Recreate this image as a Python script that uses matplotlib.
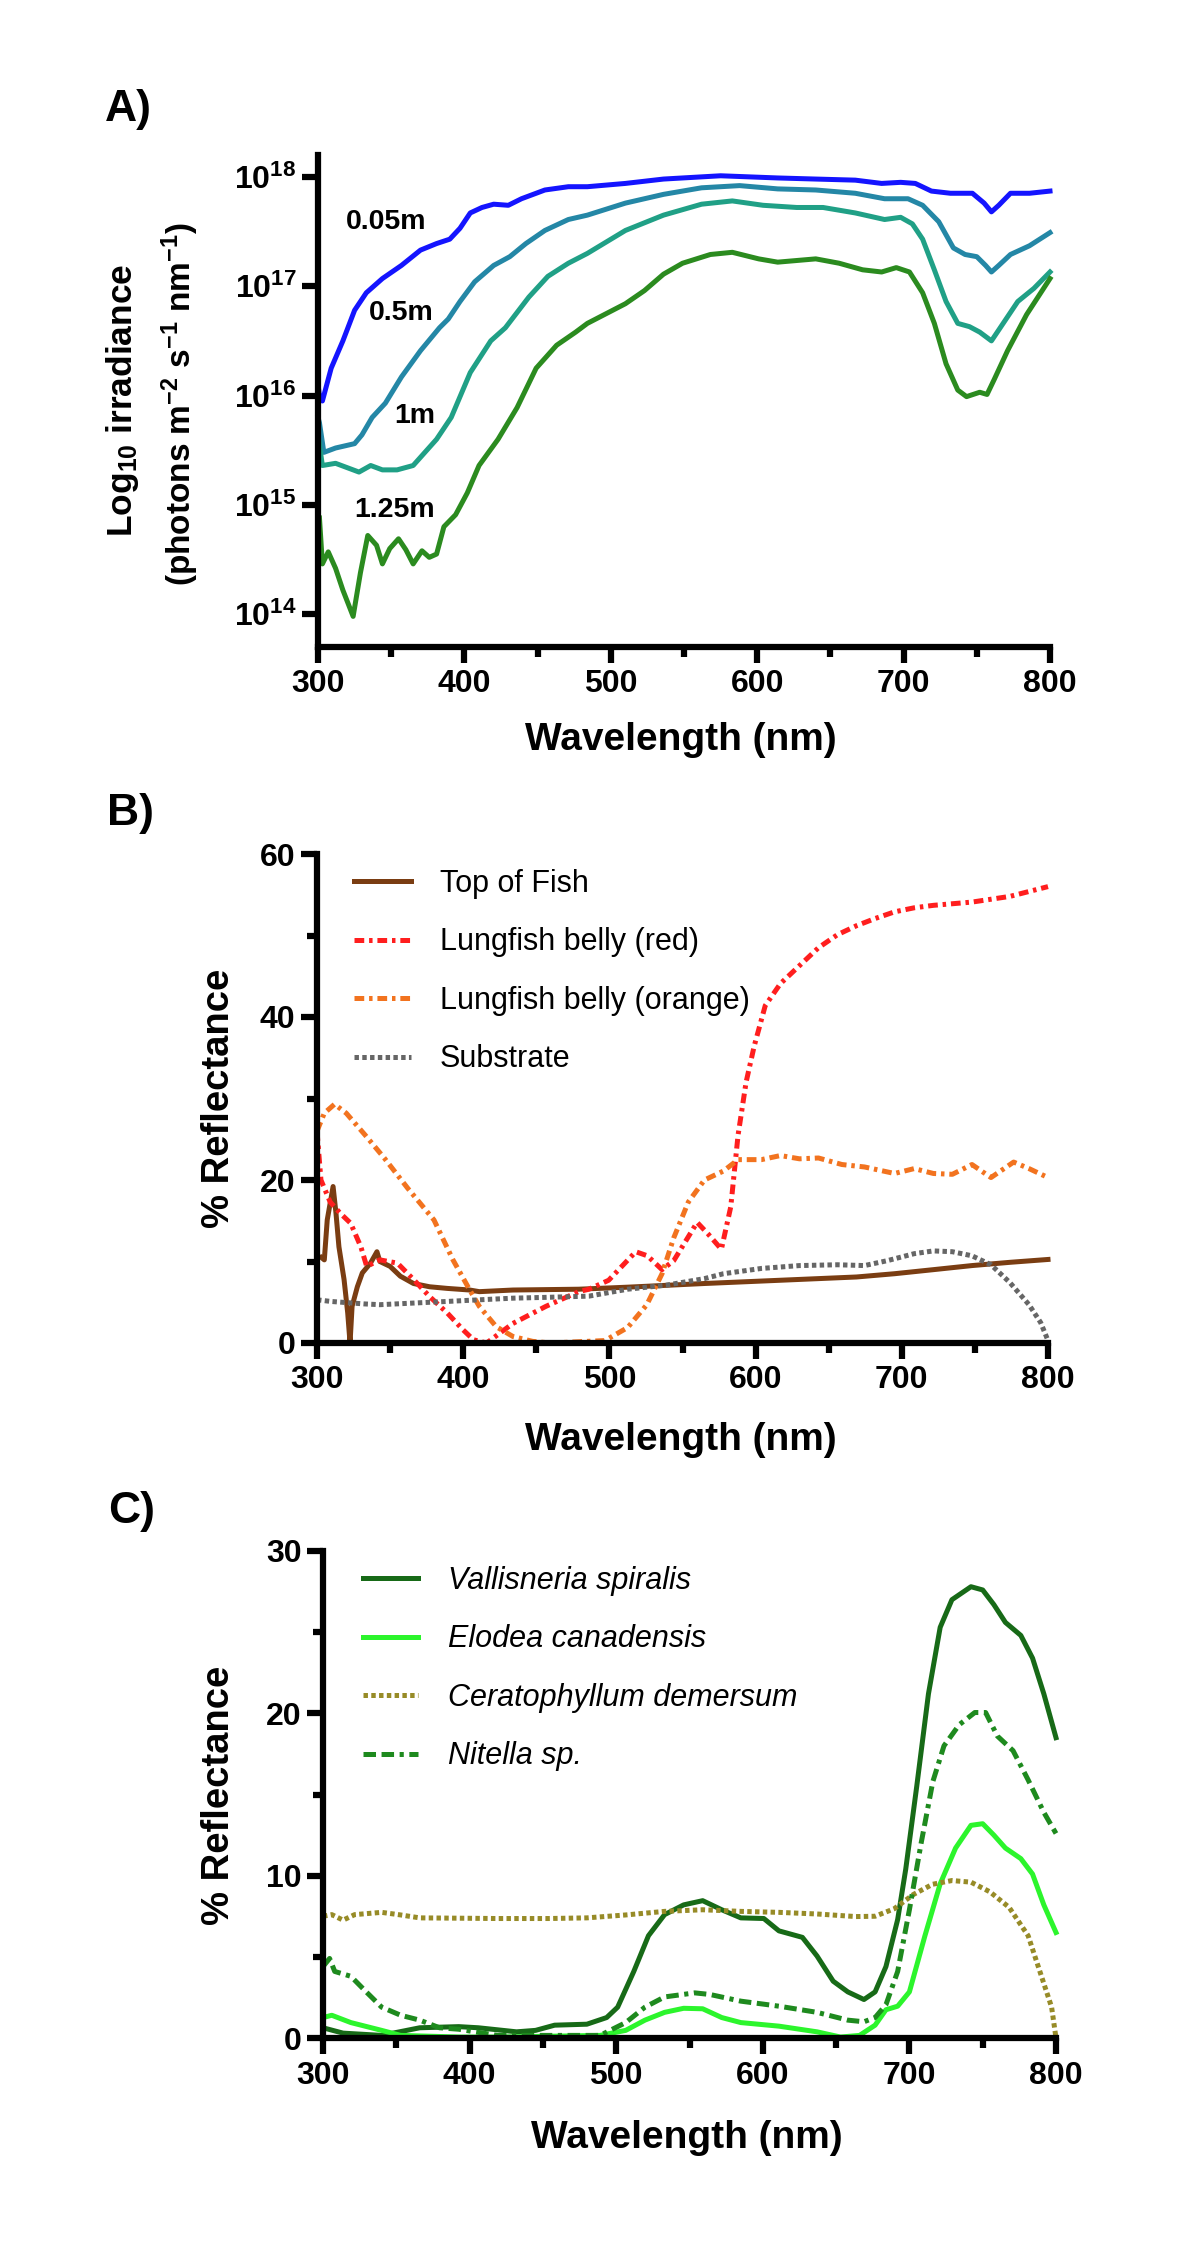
import numpy as np
import matplotlib
matplotlib.use("Agg")
import matplotlib.pyplot as plt
from matplotlib.ticker import FixedLocator, FuncFormatter, NullLocator
from matplotlib.font_manager import FontProperties

plt.rcParams['font.family'] = ['Liberation Sans', 'DejaVu Sans']
plt.rcParams['font.weight'] = 'bold'
plt.rcParams['mathtext.fontset'] = 'custom'
plt.rcParams['mathtext.rm'] = 'Liberation Sans:bold'
plt.rcParams['mathtext.bf'] = 'Liberation Sans:bold'
plt.rcParams['mathtext.it'] = 'Liberation Sans:bold:italic'
plt.rcParams['mathtext.default'] = 'bf'
plt.rcParams['lines.scale_dashes'] = False

# ---------------- Panel A: log10 irradiance (exponents) ----------------
a005_x = [300, 301, 303, 309, 317, 325, 333, 344, 357, 370, 381, 390, 397, 404, 412, 420, 430, 439, 455, 471,
          484, 510, 536, 575, 614, 640, 667, 685, 698, 708, 719, 732, 747, 755, 760, 765, 773, 786, 800]
a005_y = [16.1, 16.0, 15.95, 16.25, 16.5, 16.78, 16.94, 17.07, 17.19, 17.33, 17.39, 17.43, 17.53, 17.67, 17.72,
          17.75, 17.74, 17.8, 17.88, 17.91, 17.91, 17.94, 17.98, 18.01, 17.99, 17.98, 17.97, 17.94, 17.95, 17.94,
          17.87, 17.85, 17.85, 17.76, 17.68, 17.74, 17.85, 17.85, 17.87]

a05_x = [300, 301, 304, 312, 325, 330, 337, 346, 357, 370, 383, 389, 397, 407, 420, 431, 442, 455, 471, 484,
         510, 536, 562, 588, 614, 640, 667, 687, 703, 713, 724, 734, 742, 750, 756, 760, 765, 773, 786, 800]
a05_y = [15.8, 15.75, 15.48, 15.52, 15.56, 15.64, 15.8, 15.93, 16.17, 16.41, 16.62, 16.7, 16.86, 17.04, 17.19,
         17.27, 17.39, 17.51, 17.61, 17.65, 17.76, 17.84, 17.9, 17.92, 17.89, 17.88, 17.85, 17.8, 17.8, 17.74,
         17.59, 17.35, 17.29, 17.27, 17.19, 17.13, 17.19, 17.29, 17.37, 17.49]

a1_x = [300, 303, 312, 320, 328, 336, 344, 354, 365, 373, 381, 391, 404, 418, 428, 444, 457, 471, 484, 510,
        536, 562, 583, 604, 627, 645, 667, 687, 698, 706, 713, 721, 729, 737, 745, 752, 760, 768, 778, 789, 800]
a1_y = [15.64, 15.36, 15.38, 15.34, 15.3, 15.36, 15.32, 15.32, 15.36, 15.48, 15.6, 15.8, 16.21, 16.5, 16.62,
        16.9, 17.09, 17.21, 17.3, 17.51, 17.65, 17.75, 17.78, 17.74, 17.72, 17.72, 17.67, 17.61, 17.63, 17.57,
        17.43, 17.15, 16.86, 16.66, 16.63, 16.58, 16.5, 16.66, 16.86, 16.98, 17.13]

a125_x = [301, 303, 307, 312, 317, 324, 329, 334, 340, 344, 349, 355, 360, 365, 371, 376, 381, 386, 394, 402,
          410, 423, 436, 449, 463, 476, 484, 510, 523, 536, 549, 568, 583, 601, 614, 640, 656, 672, 685, 695,
          704, 713, 721, 729, 737, 743, 752, 757, 762, 771, 784, 800]
a125_y = [14.88, 14.46, 14.57, 14.42, 14.22, 13.98, 14.38, 14.72, 14.63, 14.46, 14.6, 14.69, 14.59, 14.46,
          14.58, 14.52, 14.55, 14.8, 14.91, 15.11, 15.36, 15.6, 15.89, 16.25, 16.46, 16.58, 16.66, 16.84, 16.96,
          17.11, 17.21, 17.29, 17.31, 17.25, 17.22, 17.25, 17.21, 17.15, 17.13, 17.17, 17.13, 16.94, 16.66,
          16.29, 16.05, 15.99, 16.03, 16.01, 16.15, 16.41, 16.74, 17.07]

depth_labels = ['0.05m', '0.5m', '1m', '1.25m']
a_colors = ['#1414ff', '#2487a6', '#20a086', '#2b8b1f']

# ---------------- Panel B: % reflectance ----------------
top_x = [303, 305, 307, 311, 313, 315, 318.5, 321, 322.6, 324, 327.6, 331, 336.6, 341, 343, 350, 357, 366, 377,
         389, 404.5, 411, 434, 479, 512.5, 565, 617, 669, 695, 721.6, 748, 774, 800]
top_y = [10.5, 10.2, 15.1, 19.2, 15.9, 11.8, 7.8, 3.7, 0.0, 4.5, 6.9, 8.6, 9.8, 11.2, 10.0, 9.4, 8.2, 7.3, 6.9,
         6.7, 6.5, 6.3, 6.5, 6.6, 6.85, 7.3, 7.7, 8.1, 8.5, 9.0, 9.5, 9.9, 10.25]

red_x = [300, 302.7, 309, 316, 323, 330, 334, 343, 355, 366, 377, 389, 400, 407, 416, 425, 434, 456.6, 479,
         486, 499.5, 518, 526, 536, 544, 560, 567.4, 576.6, 583, 588, 593.5, 599, 606.6, 617, 630, 643, 656,
         669, 682, 695, 708.5, 721.6, 748, 774, 800]
red_y = [26, 20, 17.3, 15.9, 14.7, 11.8, 9.4, 10.2, 9.8, 7.8, 5.7, 3.7, 1.6, 0.4, 0.0, 1.2, 2.4, 4.5, 6.3, 6.6,
         7.7, 11.2, 10.7, 9.0, 10.1, 14.8, 13.4, 11.5, 16.7, 25.5, 32, 36.4, 41.4, 44.1, 46.3, 48.5, 50.1,
         51.2, 52.1, 52.9, 53.4, 53.7, 54.1, 54.8, 56]

orange_x = [300, 305, 312, 320, 333, 346, 362, 380, 393, 404.5, 411, 422.6, 434, 447.5, 460, 497, 512.5, 525.6,
            536, 544, 554, 565, 578, 588, 604, 617, 630, 643, 659, 674.5, 695, 708.5, 721.6, 734.6, 748, 761,
            776.5, 787, 800]
orange_y = [26, 28.2, 29.3, 28.2, 25.5, 22.7, 19.0, 15.1, 10.2, 6.5, 4.5, 2.0, 0.8, 0.2, 0.0, 0.3, 1.9, 4.7,
            8.5, 12.9, 17.3, 20.0, 21.1, 22.5, 22.5, 23.0, 22.6, 22.7, 21.9, 21.6, 20.8, 21.4, 20.8, 20.7, 21.9,
            20.3, 22.2, 21.4, 20.3]

sub_x = [300, 309.5, 332, 343, 366, 389, 411, 434, 456.6, 486, 512.5, 539, 565, 578, 604, 630, 656, 674.5, 690,
         708.5, 721.6, 734.6, 748, 761, 774, 787, 795, 800]
sub_y = [5.3, 5.1, 4.8, 4.7, 4.9, 5.1, 5.3, 5.5, 5.6, 5.75, 6.6, 7.1, 7.9, 8.5, 9.15, 9.5, 9.6, 9.5, 10.1,
         10.96, 11.3, 11.2, 10.7, 9.6, 7.4, 4.7, 2.5, 0.3]

b_labels = ['Top of Fish', 'Lungfish belly (red)', 'Lungfish belly (orange)', 'Substrate']

# ---------------- Panel C: % reflectance of plants ----------------
val_x = [300, 313.7, 340, 366, 392.6, 406, 432, 445, 458, 480, 493.5, 501, 512, 522, 533, 546, 559, 572, 585,
         600.7, 611, 627, 637, 648, 658, 669, 676.6, 684, 692, 697.5, 705, 713, 721, 729, 742, 750, 757.6,
         765.5, 776, 784, 791.7, 800]
val_y = [0.63, 0.3, 0.16, 0.63, 0.7, 0.63, 0.38, 0.47, 0.79, 0.85, 1.26, 1.9, 4.1, 6.3, 7.6, 8.2, 8.46, 7.9,
         7.4, 7.36, 6.6, 6.2, 5.05, 3.5, 2.84, 2.37, 2.84, 4.4, 7.3, 10.4, 15.5, 21.2, 25.3, 27.0, 27.8, 27.6,
         26.7, 25.6, 24.8, 23.4, 21.2, 18.5]

elo_x = [300, 306, 319, 340, 353, 392.6, 419, 489, 506.5, 519.6, 533, 546, 559, 572, 585, 611, 637, 653, 666,
         676.6, 684, 692, 700, 710.6, 721, 731.5, 742, 750, 757.6, 765.5, 776, 784, 791.7, 800]
elo_y = [1.26, 1.4, 0.95, 0.47, 0.16, 0.06, 0.06, 0.16, 0.47, 1.1, 1.58, 1.83, 1.8, 1.26, 0.95, 0.73, 0.38,
         0.06, 0.16, 0.79, 1.74, 1.96, 2.84, 6.3, 9.5, 11.7, 13.1, 13.2, 12.5, 11.7, 11.05, 10.1, 8.2, 6.5]

cer_x = [300, 306, 313.7, 321.6, 340, 353, 366, 419, 454, 480, 506.5, 533, 559, 585, 611, 637, 663.5, 676.6,
         689.6, 702.7, 715.8, 729, 742, 755, 768, 781, 789, 797, 800]
cer_y = [7.5, 7.6, 7.26, 7.6, 7.74, 7.58, 7.4, 7.36, 7.36, 7.4, 7.58, 7.8, 7.9, 7.8, 7.74, 7.64, 7.48, 7.5,
         7.96, 8.84, 9.47, 9.7, 9.6, 9.0, 8.05, 6.3, 4.1, 1.9, 0.0]

nit_x = [300, 304.5, 308, 319, 329.5, 340, 353, 366, 379.5, 392.6, 419, 489, 506.5, 519.6, 533, 553.6, 564,
         585, 611, 637, 658, 669, 676.6, 684, 692, 700, 708, 716, 723.6, 734, 744.6, 752, 760, 770.7, 781,
         791.7, 800]
nit_y = [4.4, 4.9, 4.1, 3.8, 2.84, 1.9, 1.4, 1.1, 0.63, 0.54, 0.16, 0.16, 0.95, 1.9, 2.53, 2.78, 2.68, 2.27,
         1.96, 1.58, 1.1, 1.0, 1.26, 2.05, 4.1, 7.9, 12.0, 15.8, 18.0, 19.3, 20.05, 20.05, 18.6, 17.7, 15.9,
         13.9, 12.6]

c_labels = ['Vallisneria spiralis', 'Elodea canadensis', 'Ceratophyllum demersum', 'Nitella sp.']

x_major = [300, 400, 500, 600, 700, 800]
x_minor = [350, 450, 550, 650, 750]

# ---------------- figure ----------------
W, H = 1200, 2263
fig = plt.figure(figsize=(W / 100, H / 100), dpi=100)


def axes_px(l, t, r, b):
    return fig.add_axes([l / W, 1 - b / H, (r - l) / W, (b - t) / H])


def ftext(x, y, s, **kw):
    return fig.text(x / W, 1 - y / H, s, **kw)


def style(ax):
    for s in ['top', 'right']:
        ax.spines[s].set_visible(False)
    for s in ['left', 'bottom']:
        ax.spines[s].set_linewidth(4.5)
    ax.set_xlim(300, 800)
    ax.xaxis.set_major_locator(FixedLocator(x_major))
    ax.xaxis.set_minor_locator(FixedLocator(x_minor))
    ax.tick_params(which='major', length=11.5, width=4.5, labelsize=23, color='black')
    ax.tick_params(which='minor', length=7, width=4.5)
    ax.tick_params(axis='x', which='major', pad=4.7)
    ax.tick_params(axis='y', which='major', pad=4)
    for lab in ax.get_xticklabels() + ax.get_yticklabels():
        lab.set_fontweight('bold')
    ax.patch.set_alpha(0)


LW = 3.6

# Panel A
axA = axes_px(318, 155, 1050, 647)
for xs, ys, c in [(a005_x, a005_y, a_colors[0]), (a05_x, a05_y, a_colors[1]),
                  (a1_x, a1_y, a_colors[2]), (a125_x, a125_y, a_colors[3])]:
    axA.plot(xs, 10 ** np.array(ys), color=c, lw=LW, solid_joinstyle='round', clip_on=False)
axA.set_yscale('log')
axA.set_ylim(10 ** 13.7, 10 ** 18.2)
axA.yaxis.set_major_locator(FixedLocator([1e14, 1e15, 1e16, 1e17, 1e18]))
axA.yaxis.set_minor_locator(NullLocator())
axA.yaxis.set_major_formatter(FuncFormatter(lambda v, p: r'$10^{%d}$' % int(round(np.log10(v)))))
style(axA)

for (x, y), s in zip([(386, 222), (401, 313), (415, 416), (395, 510)], depth_labels):
    ftext(x, y, s, fontsize=20.5, fontweight='bold', ha='center', va='center')

# Panel B
axB = axes_px(317, 854, 1048, 1343)
hB = []
hB += axB.plot(top_x, top_y, color='#7a3d12', lw=LW, clip_on=False)
hB += axB.plot(red_x, red_y, color='#ff1e1e', lw=LW, dashes=(7, 3.5, 2.5, 3.5), clip_on=False)
hB += axB.plot(orange_x, orange_y, color='#f2731f', lw=LW, dashes=(7, 3.5, 2.5, 3.5), clip_on=False)
hB += axB.plot(sub_x, sub_y, color='#666666', lw=LW, dashes=(3.2, 2.4), clip_on=False)
axB.set_ylim(0, 60)
axB.yaxis.set_major_locator(FixedLocator([0, 20, 40, 60]))
axB.yaxis.set_minor_locator(FixedLocator([10, 30, 50]))
style(axB)
legB = axB.legend(hB, b_labels, loc='upper left', bbox_to_anchor=(354 / W, 1 - 869 / H),
                  bbox_transform=fig.transFigure, frameon=False, borderpad=0, borderaxespad=0,
                  handlelength=1.86, handletextpad=0.95, labelspacing=0.93,
                  prop=FontProperties(family='Liberation Sans', size=22, weight='normal'))

# Panel C
axC = axes_px(323, 1551, 1056, 2038)
hC = []
hC += axC.plot(val_x, val_y, color='#176a17', lw=LW, clip_on=False)
hC += axC.plot(elo_x, elo_y, color='#2cf52c', lw=LW, clip_on=False)
hC += axC.plot(cer_x, cer_y, color='#978b27', lw=LW, dashes=(3.2, 2.4), clip_on=False)
hC += axC.plot(nit_x, nit_y, color='#1e8a1e', lw=LW, dashes=(9, 4, 9, 4, 3, 4), clip_on=False)
axC.set_ylim(0, 30)
axC.yaxis.set_major_locator(FixedLocator([0, 10, 20, 30]))
axC.yaxis.set_minor_locator(FixedLocator([5, 15, 25]))
style(axC)
legC = axC.legend(hC, c_labels, loc='upper left', bbox_to_anchor=(363 / W, 1 - 1566 / H),
                  bbox_transform=fig.transFigure, frameon=False, borderpad=0, borderaxespad=0,
                  handlelength=1.8, handletextpad=0.98, labelspacing=0.93,
                  prop=FontProperties(family='Liberation Sans', size=22, weight='normal', style='italic'))

# Axis labels and panel letters
for x, y in [(681, 740), (681, 1440), (687, 2138)]:
    ftext(x, y, 'Wavelength (nm)', fontsize=28, fontweight='bold', ha='center', va='center')

ftext(219, 1098, '% Reflectance', fontsize=27.5, fontweight='bold', rotation=90, ha='center', va='center')
ftext(219, 1795, '% Reflectance', fontsize=27.5, fontweight='bold', rotation=90, ha='center', va='center')

ftext(132, 400, r'Log$_{10}$ irradiance', fontsize=25.5, fontweight='bold', rotation=90,
      rotation_mode='anchor', ha='center', va='baseline')
ftext(191, 404, r'(photons m$^{-2}$ s$^{-1}$ nm$^{-1}$)', fontsize=24, fontweight='bold', rotation=90,
      rotation_mode='anchor', ha='center', va='baseline')

for (x, y), s in zip([(128, 109), (131, 813), (132, 1512)], ['A)', 'B)', 'C)']):
    ftext(x, y, s, fontsize=32, fontweight='bold', ha='center', va='center')

fig.savefig('out.png', dpi=100)
